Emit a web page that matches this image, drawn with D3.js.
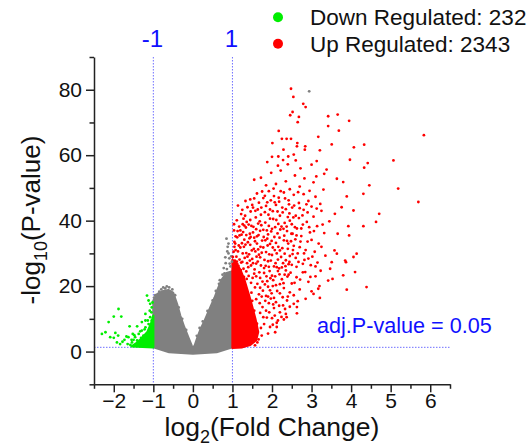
<!DOCTYPE html>
<html>
<head>
<meta charset="utf-8">
<script src="https://cdn.jsdelivr.net/npm/d3@7"></script>
<style>
    body { margin: 0; background: #fff; }
    #chart { width: 530px; height: 448px; }
    text { font-family: Arial, "Liberation Sans", sans-serif; }
</style>
</head>
<body>
<div id="chart"></div>
<script>

// axis ticks
const xMajor = [-2, -1, 0, 1, 2, 3, 4, 5, 6];
const xMinor = [-2.5, -1.5, -0.5, 0.5, 1.5, 2.5, 3.5, 4.5, 5.5, 6.5];
const yMajor = [0, 20, 40, 60, 80];
const yMinor = [-10, 10, 30, 50, 70, 90];

// thresholds
const foldCut = [-1, 1];
const pCutLabel = "adj.P-value = 0.05";
const pCut = 1.3; // -log10(0.05)

// legend
const legendNames = ["Down Regulated", "Up Regulated"];
const legendCounts = [232, 2343];

// outlines of the solid (overplotted) cores
const grayTop = [[-1, 15.6], [-0.9, 17.6], [-0.75, 18.5], [-0.62, 18.8], [-0.5, 18], [-0.4, 14.5], [-0.32, 11], [-0.22, 7.5],
    [-0.12, 4.5], [-0.03, 1.8], [0, 1], [0.05, 2], [0.12, 4.5], [0.2, 7], [0.3, 9.5], [0.44, 13.5], [0.55, 16.5],
    [0.62, 18.8], [0.73, 22], [0.85, 24], [1, 24.5]];
const grayBottom = [[1, 1.3], [0.6, -0.2], [0, -0.6], [-0.6, -0.2], [-1, 1.3]];
const redBodyTop = [[1, 28], [1.1, 27], [1.2, 25], [1.3, 22], [1.45, 16], [1.58, 10], [1.65, 6]];
const redBodyBottom = [[1.6, 3.5], [1.45, 2], [1.25, 1.3], [1, 1.1]];
const greenBody = [[-1, 1.3], [-1, 11], [-1.06, 8.5], [-1.15, 6], [-1.3, 4], [-1.45, 2.4], [-1.55, 1.6]];

// scattered points [log2FC, -log10 p]
const grayPoints = [[2.94, 79.5], [0.88, 32], [0.92, 28.5], [0.83, 27], [0.95, 26], [0.78, 25.5], [0.9, 30], [0.97, 29.1],
    [0.86, 25.2], [-0.6, 19.6], [-0.7, 19.3], [-0.52, 19], [-0.85, 18.3], [-0.95, 17.2], [0.68, 21.8], [0.8, 23.9],
    [-0.98, 16.5], [-0.8, 19], [-0.66, 19.9], [-0.45, 17.2], [-0.36, 13.5], [-0.27, 10], [-0.17, 6.6], [0.1, 4.8],
    [0.17, 7.2], [0.25, 9.2], [0.37, 12.4], [0.5, 15.6], [0.58, 18.5], [0.66, 20.7], [0.75, 23.5], [0.93, 26.9],
    [0.99, 27.5], [0.82, 28.8], [0.87, 30.6], [0.9, 33], [0.85, 34.5], [-0.75, 19.6]];

const greenPoints = [[-1.16, 17.1], [-1.12, 15.6], [-1.08, 14.6], [-1.04, 13.5], [-1.88, 13], [-1.81, 10.7], [-2, 10.7],
    [-2.13, 9], [-1.6, 7.7], [-1.41, 7.7], [-1.29, 9], [-1.2, 11.5], [-2.3, 5.4], [-2.21, 5.9], [-1.96, 5.7], [-1.89, 4.9],
    [-2.09, 4.4], [-1.84, 2.3], [-1.73, 3.6], [-1.63, 4.4], [-1.52, 5.4], [-1.54, 2.8], [-1.41, 3.4], [-1.37, 5.4],
    [-1.29, 6.4], [-1.2, 7.4], [-1.12, 8.4], [-1.08, 10.5], [-1.35, 1.8], [-1.25, 2.3], [-1.16, 3.4], [-1.08, 4.4],
    [-1.04, 5.4], [-1.46, 4.4], [-1.65, 2.3], [-1.31, 4.2], [-1.14, 4.9], [-1.2, 1.8], [-1.05, 2.3], [-1.1, 6.4],
    [-1.04, 7.4], [-1.14, 9.5], [-1.25, 4.9], [-1.37, 2.8], [-1.5, 3.6], [-1.04, 9.5], [-1.2, 9.5], [-1.05, 12],
    [-1.02, 3.2], [-1.07, 6], [-1.12, 2.6], [-1.18, 4], [-1.22, 6.8], [-1.28, 3], [-1.33, 6.2], [-1.42, 2.2],
    [-1.48, 5], [-1.55, 3.6], [-1.68, 4.6], [-1.78, 3], [-1.92, 2.8], [-2, 4.2], [-1.58, 2], [-1.02, 15], [-1.09, 12.5]];

const redPoints = [
    // sparse outliers
    [2.48, 80.3], [2.54, 77.8], [2.79, 75.7], [2.85, 74.7], [2.52, 73.2], [2.46, 72.2], [2.68, 71.7], [2.65, 70.1],
    [3.42, 71.9], [3.66, 72.4], [3.95, 70.5], [3.42, 68.9], [3.69, 67.5], [5.84, 66.1], [2.17, 67.4], [2.01, 63.7],
    [2.25, 65], [2.37, 65], [2.48, 65], [2.64, 63.7], [2.63, 62.7], [2.84, 62.7], [3.17, 65.6], [3.51, 63.3],
    [4.07, 62.4], [4.33, 63.2], [3.21, 61.5], [2.83, 61.7], [2.29, 61.7], [2.16, 59.6], [2.41, 59.6], [2.6, 58.4],
    [3.13, 58.2], [3.97, 58.6], [5.07, 58.4], [4.33, 56.2], [4.42, 57.6], [3, 57.1], [3.38, 55.6], [3.32, 54.3],
    [3.64, 52.8], [3.8, 51.8], [4.46, 50.8], [5.19, 49.8], [5.7, 45.7], [4.31, 48.2], [3.89, 47.4], [3.76, 44.1],
    [4.71, 42.1], [4.63, 39.6], [4.31, 38.3], [4.06, 43.1], [3.59, 42.1], [3.93, 38.3], [3.95, 35.5], [3.66, 36],
    [4.14, 29.9], [4.06, 28.9], [3.85, 27.8], [3.87, 27.3], [3.64, 29.9], [3.58, 30.9], [4.1, 24.3], [3.8, 23.3],
    [3.89, 18.9], [4.39, 19.7], [3.47, 25.3], [3.51, 27.3], [3.53, 22.2], [3.42, 21.7], [3.17, 19.2], [3.05, 17.6],
    [3.21, 16.4], [2.63, 11.7], [2.63, 13.6], [2.37, 10.5], [2.12, 7.5], [1.74, 4.9], [1.45, 2.4], [1.04, 37],
    // y 45-60
    [1.55, 52.5], [1.72, 53.1], [1.85, 50.8], [1.98, 54.6], [2.1, 51.2], [2.22, 55.3], [2.35, 52], [2.45, 49.6],
    [2.58, 53.8], [2.7, 50.4], [2.82, 52.9], [2.95, 49.1], [3.05, 51.7], [1.62, 48.3], [1.78, 46.9], [1.92, 49],
    [2.05, 47.5], [2.18, 45.8], [2.3, 48.6], [2.42, 46.2], [2.55, 47.9], [2.68, 45.4], [2.8, 48.1], [2.92, 46],
    [3.1, 47.3], [3.22, 45.1], [1.45, 46.5], [2.15, 56.8], [2.4, 57.2], [2.72, 56], [1.88, 57.9], [2.55, 60.2],
    [2, 59.5], [2.28, 58.5], [1.52, 44], [1.67, 45.5], [1.82, 47.6], [1.97, 46.2], [2.07, 45.6], [2.17, 47],
    [2.33, 46.8], [2.51, 44], [2.87, 45], [3.3, 49.5], [3.12, 53.5], [1.14, 44.6], [1.25, 43.3], [1.33, 46],
    [1.55, 46.8], [1.64, 43.4], [1.75, 48.9], [1.88, 45.6], [2.04, 49.8], [2.14, 42.8], [2.22, 49], [2.66, 48.7],
    // y 35-45
    [1.22, 42], [1.3, 38.5], [1.38, 44.1], [1.45, 40.2], [1.52, 36.4], [1.58, 43], [1.65, 39.1], [1.72, 41.8],
    [1.78, 37.2], [1.85, 44.5], [1.9, 35.8], [1.95, 40.6], [2.02, 42.9], [2.08, 38], [2.14, 36.1], [2.2, 41.5],
    [2.26, 44], [2.32, 39.3], [2.38, 36.8], [2.44, 42.2], [2.5, 38.9], [2.56, 44.6], [2.62, 35.5], [2.68, 40.8],
    [2.74, 37.6], [2.8, 43.3], [2.88, 39.6], [2.96, 36.4], [3.05, 41.2], [3.14, 38.3], [3.25, 43], [3.32, 36.2],
    [3.45, 39.8], [1.35, 35.6], [1.62, 35.2], [1.82, 42.6], [2.1, 44.8], [2.35, 43.5], [2.6, 41.5], [2.9, 42.5],
    [1.5, 44.8], [2, 37.5], [2.24, 38.2], [2.52, 36], [2.78, 38.8], [3, 44.3], [1.7, 36.9], [1.95, 43.4],
    [2.45, 40], [2.7, 43.8], [1.08, 35.2], [1.04, 38.9], [1.13, 36.8], [1.23, 35.7], [1.34, 37.9], [1.44, 36],
    [1.17, 38.2], [1.28, 40.6], [1.48, 38.4], [1.11, 40.1], [1.32, 41.5], [1.46, 42.8], [1.27, 36.5], [1.53, 38.1],
    [1.59, 41], [1.73, 44], [1.79, 35], [1.83, 39.4], [1.91, 41.8], [1.98, 36.7], [1.69, 39.8], [1.87, 37],
    [1.6, 37.4], [2.06, 35], [2.11, 40.2], [2.21, 37.3], [2.27, 42.5], [2.31, 35.4], [2.37, 38.2], [2.43, 45],
    [2.49, 36], [2.54, 41], [2.63, 37.6], [2.74, 35.3], [2.77, 41.6], [2.94, 38], [3.06, 36.8], [3.13, 43.7],
    [3.28, 38.8], [1.2, 37], [1.41, 38.8], [2.4, 41.1], [2.58, 38], [1.18, 35.5], [1.36, 39.6], [1.73, 38.6],
    [1.92, 38.4], [2.03, 40.5], [2.16, 39], [2.29, 37.5], [1.26, 38.9],
    // y 25-35
    [1.05, 33.5], [1.1, 29], [1.15, 26.2], [1.2, 31.8], [1.25, 27.4], [1.3, 34.2], [1.35, 30.1], [1.4, 25.8],
    [1.45, 32.6], [1.5, 28.3], [1.55, 34.8], [1.6, 26.9], [1.65, 31.2], [1.7, 28.8], [1.75, 33.9], [1.8, 25.5],
    [1.85, 30.4], [1.9, 27.6], [1.95, 32.9], [2, 29.5], [2.05, 26], [2.1, 33.2], [2.15, 28.1], [2.2, 30.9],
    [2.25, 25.7], [2.3, 34], [2.35, 27.9], [2.4, 31.4], [2.45, 29.2], [2.5, 26.5], [2.55, 32.3], [2.6, 28.6],
    [2.65, 30], [2.72, 33.6], [2.78, 26.8], [2.85, 31], [2.92, 28.4], [3, 34.1], [3.08, 30.5], [3.15, 27.2],
    [3.25, 32], [3.35, 29.3], [1.12, 34.9], [1.28, 25.3], [1.42, 29.7], [1.58, 30.6], [1.72, 26.3], [1.88, 34.5],
    [2.02, 31.8], [2.18, 25.4], [2.32, 29.9], [2.48, 33.7], [2.62, 25.9], [2.82, 28], [1.08, 31], [1.33, 32.7],
    [1.62, 33], [1.92, 25.9], [2.12, 30], [2.42, 26.7], [2.7, 31.9], [2.98, 26.4], [1.06, 27.8], [1.03, 30.5],
    [1.16, 32.4], [1.18, 28.1], [1.26, 30], [1.31, 28.6], [1.37, 27], [1.39, 33.4], [1.47, 26.3], [1.49, 30.9],
    [1.07, 33], [1.12, 26.8], [1.24, 33.1], [1.43, 34.6], [1.01, 28.9], [1.05, 32], [1.09, 25.6], [1.14, 30.6],
    [1.22, 27.2], [1.56, 25.1], [1.61, 29], [1.66, 35.6], [1.71, 32], [1.81, 28], [1.89, 32.4], [1.93, 29.7],
    [1.54, 31.4], [1.64, 27.5], [1.74, 30.2], [1.84, 26.2], [1.99, 33.8], [2.09, 27], [2.16, 32], [2.23, 28.9],
    [2.34, 26.1], [2.41, 33], [2.52, 29.8], [2.59, 34.3], [2.26, 31.6], [2.12, 25.8], [2.44, 27.4], [2.67, 27.4],
    [2.81, 30], [2.9, 33.6], [3.02, 29], [3.1, 26], [3.18, 33], [1.29, 32], [1.38, 29], [1.46, 35], [1.52, 27],
    [1.67, 29.6], [1.78, 31.8], [1.83, 34], [1.97, 27.8], [2.07, 31], [2.19, 34.8], [2.28, 27], [2.38, 33.8],
    [2.53, 31], [1.57, 33.7], [1.44, 27.8], [1.11, 27.5],
    // y 15-25
    [1.8, 24], [1.88, 21.5], [1.95, 18.7], [2, 23.2], [2.05, 16.4], [2.1, 20.3], [2.15, 24.6], [2.2, 17.8],
    [2.25, 22.1], [2.3, 19.4], [2.38, 15.6], [2.42, 23.5], [2.5, 20.8], [2.55, 17.2], [2.62, 22.7], [2.7, 19],
    [2.78, 24.2], [2.85, 16.1], [2.92, 21.3], [3, 18.4], [3.1, 23], [3.2, 20], [1.35, 24.5], [1.55, 23.8],
    [1.7, 22.5], [1.85, 17], [2.02, 20], [2.35, 24.8], [2.65, 15.4], [2.45, 18.1], [1.02, 24.5], [1.1, 23.4],
    [1.21, 24.9], [1.29, 22.8], [1.41, 23.1], [1.03, 21.6], [1.36, 22.2], [1.19, 22.7], [1.51, 22.5], [1.63, 20.7],
    [1.68, 24.2], [1.76, 21.4], [1.86, 23], [1.96, 22.4], [1.57, 19.6], [1.77, 18.6], [1.94, 24.6], [1.9, 19.8],
    [2.03, 21.8], [2.13, 18.5], [2.19, 23.6], [2.29, 20.9], [2.39, 22.9], [2.47, 24.1], [2.57, 21], [2.71, 22],
    [2.84, 24.3], [2.97, 22.8], [3.23, 24.7], [1.48, 18], [1.67, 17.5], [1.74, 16.8], [1.6, 23], [1.82, 20.5],
    [2.08, 23], [2.32, 23.5], [1.47, 21], [1.7, 19.5], [1.99, 17.8], [2.2, 20.6], [1.9, 16.8],
    // y 2-15
    [1.85, 12.5], [1.92, 14.8], [2, 10.2], [2.05, 13.3], [2.12, 8.8], [2.2, 12], [2.28, 14.1], [2.35, 11.5],
    [2.45, 13.7], [2.55, 14.6], [1.95, 7.5], [2.08, 5.9], [2.3, 9.8], [1.78, 10.5], [1.52, 4], [1.58, 6.2],
    [1.62, 8.5], [1.66, 3.7], [1.7, 11.8], [1.72, 7.2], [1.76, 13.6], [1.8, 8.4], [1.83, 15.5], [1.87, 10.4],
    [1.9, 5.5], [1.93, 12], [1.97, 16.2], [2.02, 8.2], [2.07, 11], [2.1, 15.1], [2.15, 9.5], [2.18, 14],
    [2.24, 10.6], [2.27, 16.6], [2.33, 13], [2.4, 16.8], [1.55, 12.5], [1.6, 16], [1.63, 2.8], [1.57, 1.9],
    [1.5, 15.5], [1.69, 14.8], [2.03, 14.4]
];

const colors = {gray: "#808080", red: "#ff0000", green: "#00ee00", guide: "#6f6fff", label: "#1010ff"};

class VolcanoPlot {

    constructor(parentElement) {
        this.parentElement = parentElement;
        this.initVis();
    }

    initVis() {
        let vis = this;

        vis.width = 530;
        vis.height = 448;

        vis.svg = d3.select("#" + vis.parentElement).append("svg")
            .attr("width", vis.width)
            .attr("height", vis.height);

        vis.x = d3.scaleLinear().domain([-2.5, 6.5]).range([94, 450]);
        vis.y = d3.scaleLinear().domain([-10, 90]).range([384.3, 57]);

        vis.drawGuides();
        vis.drawPoints();
        vis.drawAxes();
        vis.drawLegend();
    }

    drawGuides() {
        let vis = this;

        // dotted threshold lines (under the points)
        vis.svg.append("g")
            .selectAll("line")
            .data(foldCut)
            .join("line")
            .attr("x1", d => vis.x(d)).attr("x2", d => vis.x(d))
            .attr("y1", vis.y(90)).attr("y2", vis.y(-10))
            .attr("stroke", colors.guide)
            .attr("stroke-width", 1)
            .attr("stroke-dasharray", "1.5,1.5");

        vis.svg.append("line")
            .attr("x1", vis.x(-2.5)).attr("x2", vis.x(6.5))
            .attr("y1", vis.y(pCut)).attr("y2", vis.y(pCut))
            .attr("stroke", colors.guide)
            .attr("stroke-width", 1)
            .attr("stroke-dasharray", "1.5,1.5");

        vis.svg.append("g")
            .selectAll("text")
            .data(foldCut)
            .join("text")
            .attr("x", d => vis.x(d) - 1)
            .attr("y", 46.5)
            .attr("text-anchor", "middle")
            .attr("font-size", "24px")
            .attr("fill", colors.label)
            .text(d => d);

        vis.svg.append("text")
            .attr("x", 317)
            .attr("y", 333)
            .attr("font-size", "21.6px")
            .attr("fill", colors.label)
            .text(pCutLabel);
    }

    drawPoints() {
        let vis = this;

        let outline = d3.line()
            .x(d => vis.x(d[0]))
            .y(d => vis.y(d[1]))
            .curve(d3.curveLinearClosed);

        // solid cores where the dots overlap completely
        const bodies = [
            {pts: grayTop.concat(grayBottom), color: colors.gray},
            {pts: redBodyTop.concat(redBodyBottom), color: colors.red},
            {pts: greenBody, color: colors.green}
        ];
        vis.svg.append("g")
            .selectAll("path")
            .data(bodies)
            .join("path")
            .attr("d", d => outline(d.pts))
            .attr("fill", d => d.color)
            .attr("stroke", d => d.color)
            .attr("stroke-width", 2.2)
            .attr("stroke-linejoin", "round");

        const sets = [
            {pts: grayPoints, color: colors.gray},
            {pts: greenPoints, color: colors.green},
            {pts: redPoints, color: colors.red}
        ];
        sets.forEach(s => {
            vis.svg.append("g")
                .selectAll("circle")
                .data(s.pts)
                .join("circle")
                .attr("cx", d => vis.x(d[0]))
                .attr("cy", d => vis.y(d[1]))
                .attr("r", 1.4)
                .attr("fill", s.color);
        });
    }

    drawAxes() {
        let vis = this;
        let x0 = vis.y(-10), y0 = vis.x(-2.5);

        // minor ticks first, then the major ones with labels
        vis.svg.append("g")
            .attr("transform", `translate(0,${x0})`)
            .call(d3.axisBottom(vis.x).tickValues(xMinor).tickSize(4.5).tickFormat(""))
            .call(g => g.select(".domain").remove());

        vis.xAxis = vis.svg.append("g")
            .attr("transform", `translate(0,${x0})`)
            .call(d3.axisBottom(vis.x).tickValues(xMajor).tickSize(8).tickSizeOuter(0).tickPadding(0.5));

        vis.svg.append("g")
            .attr("transform", `translate(${y0},0)`)
            .call(d3.axisLeft(vis.y).tickValues(yMinor).tickSize(4.5).tickFormat(""))
            .call(g => g.select(".domain").remove());

        vis.yAxis = vis.svg.append("g")
            .attr("transform", `translate(${y0},0)`)
            .call(d3.axisLeft(vis.y).tickValues(yMajor).tickSize(8).tickSizeOuter(0).tickPadding(4));

        vis.svg.selectAll(".tick line, .domain")
            .attr("stroke", "#222")
            .attr("stroke-width", 1.5);

        vis.svg.selectAll(".tick text")
            .attr("font-family", "Arial, 'Liberation Sans', sans-serif")
            .attr("font-size", "21px")
            .attr("fill", "#111");

        // axis titles
        let xt = vis.svg.append("text")
            .attr("x", 272)
            .attr("y", 436)
            .attr("text-anchor", "middle")
            .attr("font-size", "26.5px")
            .attr("fill", "#111");
        xt.append("tspan").text("log");
        xt.append("tspan").attr("font-size", "18px").attr("dy", 7).text("2");
        xt.append("tspan").attr("dy", -7).text("(Fold Change)");

        let yt = vis.svg.append("text")
            .attr("transform", "translate(40,220) rotate(-90)")
            .attr("text-anchor", "middle")
            .attr("font-size", "26px")
            .attr("fill", "#111");
        yt.append("tspan").text("-log");
        yt.append("tspan").attr("font-size", "18px").attr("dy", 7).text("10");
        yt.append("tspan").attr("dy", -7).text("(P-value)");
    }

    drawLegend() {
        let vis = this;

        const items = legendNames.map((n, i) => ({
            name: n, count: legendCounts[i], color: i === 0 ? colors.green : colors.red
        }));

        let row = vis.svg.append("g")
            .selectAll("g")
            .data(items)
            .join("g")
            .attr("transform", (d, i) => `translate(278,${17.3 + i * 26.5})`);

        row.append("circle")
            .attr("r", 5)
            .attr("fill", d => d.color);

        row.append("text")
            .attr("x", 32)
            .attr("y", 7.7)
            .attr("font-size", "22.5px")
            .attr("fill", "#111")
            .text(d => `${d.name}: ${d.count}`);
    }
}

new VolcanoPlot("chart");
</script>
</body>
</html>
